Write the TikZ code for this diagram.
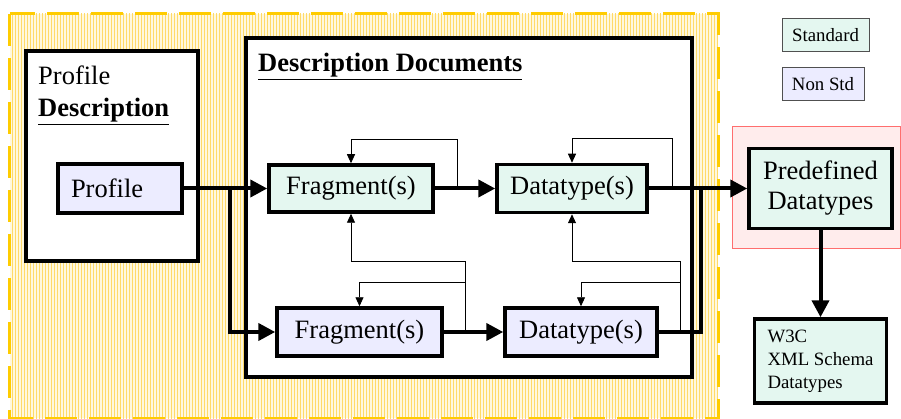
\documentclass[tikz,border=0pt]{standalone}
\usepackage{fontspec}
\setmainfont{Liberation Serif}
\usetikzlibrary{arrows.meta,patterns}
\definecolor{stdfill}{RGB}{228,247,240}
\definecolor{nsfill}{RGB}{236,236,255}
\definecolor{gold}{RGB}{255,204,0}
\definecolor{yfill}{RGB}{255,248,222}
\definecolor{ystripe}{RGB}{255,218,105}
\definecolor{redline}{RGB}{255,110,110}
\definecolor{pinkfill}{RGB}{255,236,236}
\definecolor{legline}{RGB}{80,80,80}
\newcommand\bigtxt{\fontsize{26.5}{30}\selectfont}
\newcommand\smalltxt{\fontsize{18.8}{23}\selectfont}
\begin{document}
\begin{tikzpicture}[x=1pt,y=-1pt,
  container/.style={draw=black,line width=3.5pt,fill=white,inner sep=0pt},
  stdbox/.style={draw=black,line width=3.5pt,fill=stdfill,inner sep=0pt,font=\bigtxt},
  nsbox/.style={draw=black,line width=3.5pt,fill=nsfill,inner sep=0pt,font=\bigtxt},
  legbox/.style={draw=legline,line width=1pt,inner sep=0pt,font=\smalltxt},
  thickc/.style={line width=4pt},
  thickarr/.style={line width=4pt,-{Triangle[length=17pt,width=17pt]}},
  thinarr/.style={line width=0.9pt,-{Triangle[length=9pt,width=8pt]}}
]
\useasboundingbox (0,0) rectangle (901,419);
% outer dashed region
\node[name=outer,minimum width=708pt,minimum height=404pt,inner sep=0pt,
  fill=yfill,postaction={pattern=vertical lines,pattern color=ystripe}] at (364,216) {};
\draw[gold,line width=3pt,dash pattern=on 32pt off 12pt] (outer.north west) rectangle (outer.south east);
% red region
\node[name=rb,draw=redline,line width=1pt,fill=pinkfill,minimum width=168pt,minimum height=122pt,inner sep=0pt] at (816,188) {};
% containers
\node[container,name=pd,minimum width=172pt,minimum height=210pt] at (112,156) {};
\node[container,name=dd,minimum width=446pt,minimum height=339pt] at (469,207.5) {};
\node[name=pdl1,anchor=base west,inner sep=0pt,font=\bigtxt] at (38,85) {Profile};
\node[name=pdl2,anchor=base west,inner sep=0pt,font=\bigtxt] at (38,117) {\textbf{\underline{Description}}};
\node[name=ddl,anchor=base west,inner sep=0pt,font=\bigtxt] at (258,72) {\textbf{\underline{Description Documents}}};
% nodes
\node[nsbox,name=prof,minimum width=124pt,minimum height=49pt,text width=98pt,inner xsep=13pt,align=left] at (120,188.5) {Profile};
\node[stdbox,name=frag1,minimum width=164pt,minimum height=47pt] at (351,188.5) {Fragment(s)};
\node[stdbox,name=dt1,minimum width=150pt,minimum height=48pt] at (572,188.5) {Datatype(s)};
\node[nsbox,name=frag2,minimum width=165pt,minimum height=48pt] at (359.5,332) {Fragment(s)};
\node[nsbox,name=dt2,minimum width=152pt,minimum height=48pt] at (581,332) {Datatype(s)};
\node[stdbox,name=pre,minimum width=143pt,minimum height=80pt,align=center] at (820.5,188.5) {Predefined\\Datatypes};
\node[stdbox,name=w3c,minimum width=132pt,minimum height=84pt,align=left,font=\smalltxt] at (820.5,361) {W3C\\XML Schema\\Datatypes};
\node[legbox,name=std,fill=stdfill,minimum width=87pt,minimum height=33pt] at (825.5,35.5) {Standard};
\node[legbox,name=nstd,fill=nsfill,minimum width=82pt,minimum height=33pt] at (823,84.5) {Non Std};
% thin feedback connectors
\coordinate (l1) at (457,188.5);
\coordinate (l2) at (672,188.5);
\coordinate (l3) at (465,332);
\coordinate (l4) at (680,332);
\draw[thinarr] (l1) |- ([yshift=24pt]frag1.north) -- (frag1.north);
\draw[thinarr] (l2) |- ([yshift=24pt]dt1.north) -- (dt1.north);
\draw[thinarr] (l3) |- ([yshift=24pt]frag2.north) -- (frag2.north);
\draw[thinarr] (l3) |- ([yshift=-48pt]frag1.south) -- (frag1.south);
\draw[thinarr] (l4) |- ([yshift=24pt]dt2.north) -- (dt2.north);
\draw[thinarr] (l4) |- ([yshift=-47pt]dt1.south) -- (dt1.south);
% thick connectors
\coordinate (b1) at (230,188.5);
\coordinate (j1) at (701,188.5);
\draw[thickarr] (prof.east) -- (frag1.west);
\draw[thickarr] (b1) |- (frag2.west);
\draw[thickarr] (frag1.east) -- (dt1.west);
\draw[thickarr] (frag2.east) -- (dt2.west);
\draw[thickarr] (dt1.east) -- (pre.west);
\draw[thickc] (dt2.east) -| (j1);
\draw[thickarr] (pre.south) -- (w3c.north);
\end{tikzpicture}
\end{document}
